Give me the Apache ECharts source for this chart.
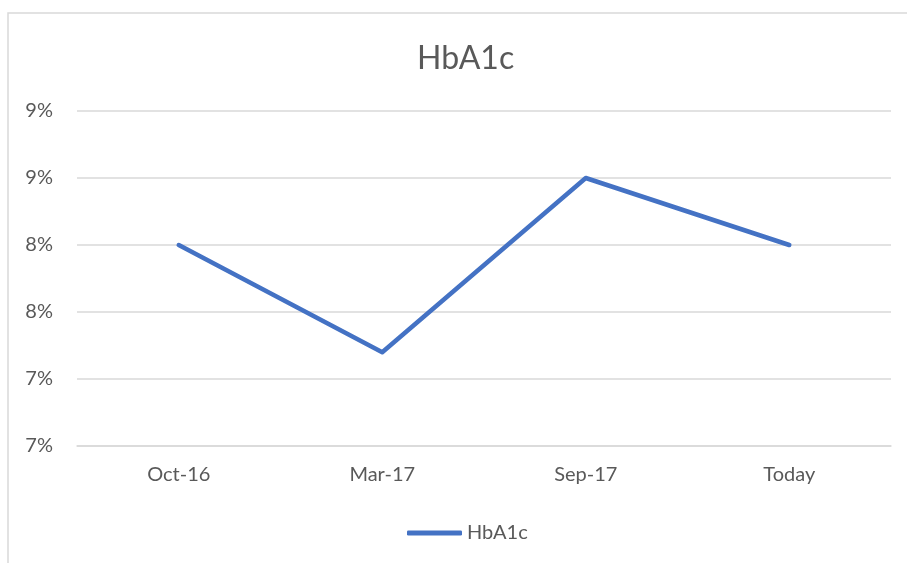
<!DOCTYPE html>
<html>
<head>
<meta charset="utf-8">
<script src="https://cdn.jsdelivr.net/npm/echarts@6/dist/echarts.min.js"></script>
<style>
  html, body { margin: 0; padding: 0; background: #fff; }
  #chart { width: 907px; height: 563px; }
</style>
</head>
<body>
<div id="chart"></div>
<script>
// data (percent values)
const categories = ['Oct-16', 'Mar-17', 'Sep-17', 'Today'];
const hba1cValues = [8.0, 7.2, 8.5, 8.0];
const seriesName = 'HbA1c';

const chart = echarts.init(document.getElementById('chart'));
const textColor = '#595959';
const fontFamily = 'Lato, Carlito, Calibri, sans-serif';

chart.setOption({
  animation: false,
  textStyle: { fontFamily: fontFamily },
  // chart area border (runs off right / bottom edge like the screenshot)
  graphic: [{
    type: 'rect',
    shape: { x: 8, y: 13, width: 960, height: 600 },
    style: { fill: 'none', stroke: '#d9d9d9', lineWidth: 1.5 },
    silent: true
  }],
  title: {
    text: 'HbA1c',
    left: 412,
    top: 38,
    textStyle: { color: textColor, fontSize: 32, fontWeight: 'normal', fontFamily: fontFamily }
  },
  grid: { left: 77, right: 16, top: 111, bottom: 117, containLabel: false },
  xAxis: {
    type: 'category',
    data: categories,
    axisLine: { lineStyle: { color: '#d9d9d9', width: 1.5 } },
    axisTick: { show: false },
    axisLabel: { color: textColor, fontSize: 20, margin: 19, fontFamily: fontFamily }
  },
  yAxis: {
    type: 'value',
    min: 6.5,
    max: 9.0,
    interval: 0.5,
    axisLine: { show: false },
    axisTick: { show: false },
    splitLine: { lineStyle: { color: '#d9d9d9', width: 1.5 } },
    axisLabel: {
      color: textColor,
      fontSize: 20,
      margin: 24,
      fontFamily: fontFamily,
      formatter: v => Math.round(v + 1e-9) + '%'
    }
  },
  legend: {
    top: 518,
    left: 402,
    itemWidth: 55,
    itemHeight: 5,
    textStyle: { color: textColor, fontSize: 20, fontFamily: fontFamily },
    data: [{ name: seriesName, icon: 'roundRect', itemStyle: { color: '#4472C4' } }]
  },
  series: [{
    name: seriesName,
    type: 'line',
    data: hba1cValues,
    showSymbol: false,
    symbol: 'none',
    lineStyle: { color: '#4472C4', width: 4.5, cap: 'round', join: 'round' },
    itemStyle: { color: '#4472C4' }
  }]
});
</script>
</body>
</html>
